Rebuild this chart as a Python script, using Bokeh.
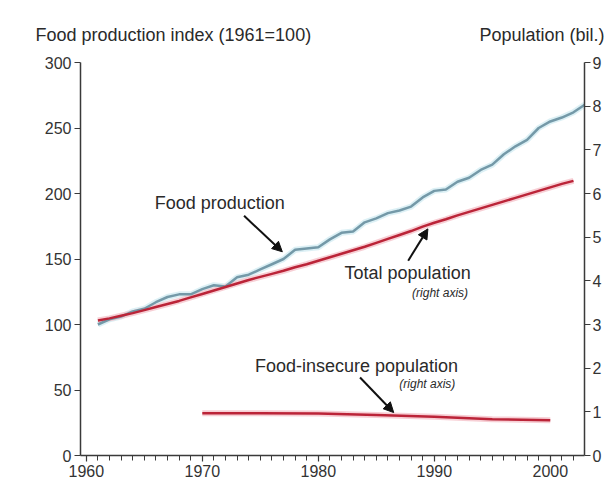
from bokeh.plotting import figure
from bokeh.models import Range1d, LinearAxis, Label, Arrow, NormalHead, FixedTicker
from bokeh.embed import file_html
from bokeh.resources import INLINE

# ---- data ----
food_years = list(range(1961, 2004))
food_index = [100, 104, 106, 110, 112, 117, 121, 123, 123, 127,
              130, 129, 136, 138, 142, 146, 150, 157, 158, 159,
              165, 170, 171, 178, 181, 185, 187, 190, 197, 202,
              203, 209, 212, 218, 222, 230, 236, 241, 250, 255,
              258, 262, 268]

pop_years = list(range(1961, 2003))
pop_total = [3.09, 3.14, 3.20, 3.26, 3.33, 3.40, 3.47, 3.54, 3.62, 3.70,
             3.78, 3.86, 3.94, 4.02, 4.09, 4.16, 4.23, 4.31, 4.38, 4.46,
             4.54, 4.62, 4.70, 4.78, 4.87, 4.96, 5.05, 5.14, 5.24, 5.33,
             5.41, 5.50, 5.58, 5.66, 5.74, 5.82, 5.90, 5.98, 6.06, 6.14,
             6.22, 6.29]

insecure_years = [1970, 1975, 1980, 1985, 1990, 1995, 2000]
insecure_pop = [0.97, 0.97, 0.96, 0.93, 0.89, 0.83, 0.81]

left_ticks = [0, 50, 100, 150, 200, 250, 300]
right_ticks = [0, 1, 2, 3, 4, 5, 6, 7, 8, 9]
decade_ticks = [1960, 1970, 1980, 1990, 2000]

left_heading = "Food production index (1961=100)"
right_heading = "Population (bil.)"
heading_pos = [1967.5, 1999.7]

FONT = "Liberation Sans"
AX = "#3a3a3a"

p = figure(width=604, height=482, output_backend="svg", toolbar_location=None,
           x_range=Range1d(1959.5, 2002.95), y_range=Range1d(0, 300),
           min_border_left=80, min_border_right=11, min_border_top=62,
           min_border_bottom=27)
p.extra_y_ranges = {"pop": Range1d(0, 9)}
p.grid.visible = False
p.outline_line_color = None
p.background_fill_color = "white"
p.border_fill_color = "white"

def style_axis(ax):
    ax.axis_line_color = AX
    ax.axis_line_width = 1.5
    ax.major_tick_line_color = AX
    ax.minor_tick_line_color = AX
    ax.major_tick_line_width = 1.2
    ax.minor_tick_line_width = 1
    ax.major_tick_out = 6
    ax.major_tick_in = 0
    ax.minor_tick_out = 5
    ax.minor_tick_in = 0
    ax.major_label_text_font = FONT
    ax.major_label_text_font_size = "16px"
    ax.major_label_text_color = "#333333"

xa = p.xaxis[0]
style_axis(xa)
xa.ticker = FixedTicker(ticks=decade_ticks, minor_ticks=list(range(1960, 2003)))
xa.major_label_standoff = 3

ya = p.yaxis[0]
style_axis(ya)
ya.ticker = FixedTicker(ticks=left_ticks)
ya.minor_tick_out = 0
ya.major_label_standoff = 3

ra = LinearAxis(y_range_name="pop")
style_axis(ra)
ra.ticker = FixedTicker(ticks=right_ticks)
ra.minor_tick_out = 0
ra.major_label_standoff = 2
p.add_layout(ra, "right")

# headings as labels of an (otherwise invisible) top axis
ta = LinearAxis()
ta.ticker = FixedTicker(ticks=heading_pos)
ta.major_label_overrides = {heading_pos[0]: left_heading, heading_pos[1]: right_heading}
ta.axis_line_color = None
ta.major_tick_line_color = None
ta.minor_tick_line_color = None
ta.major_tick_out = 0
ta.major_label_standoff = 18
ta.major_label_text_font = FONT
ta.major_label_text_font_size = "18px"
ta.major_label_text_color = "#2a2a2a"
p.add_layout(ta, "above")

# glows
p.line(food_years, food_index, line_color="#d3ecf3", line_width=6, line_alpha=0.8)
p.line(pop_years, pop_total, y_range_name="pop", line_color="#f5c3ca", line_width=6, line_alpha=0.8)
p.line(insecure_years, insecure_pop, y_range_name="pop", line_color="#f5c3ca", line_width=6, line_alpha=0.8)
# lines
p.line(food_years, food_index, line_color="#7499a8", line_width=2.5)
p.line(pop_years, pop_total, y_range_name="pop", line_color="#bb2438", line_width=2.5)
p.line(insecure_years, insecure_pop, y_range_name="pop", line_color="#bb2438", line_width=2.5)

def lab(x, y, t, size="18px", style="normal"):
    p.add_layout(Label(x=x, y=y, text=t, text_font=FONT, text_font_size=size,
                       text_align="center", text_baseline="middle",
                       text_font_style=style, text_color="#2a2a2a"))

lab(1971.5, 193, "Food production")
lab(1987.7, 139.5, "Total population")
lab(1990.5, 124.3, "(right axis)", size="12px", style="italic")
lab(1983.3, 68.6, "Food-insecure population")
lab(1989.4, 54.9, "(right axis)", size="12px", style="italic")

def arr(x0, y0, x1, y1):
    p.add_layout(Arrow(x_start=x0, y_start=y0, x_end=x1, y_end=y1,
                       line_color="#111111", line_width=2,
                       end=NormalHead(size=10, fill_color="#111111", line_color="#111111")))

arr(1973.6, 183, 1976.9, 155.5)
arr(1987.75, 148.7, 1989.45, 173.0)
arr(1983.6, 59.5, 1986.5, 32.8)

open("out.html", "w").write(file_html(p, INLINE))
